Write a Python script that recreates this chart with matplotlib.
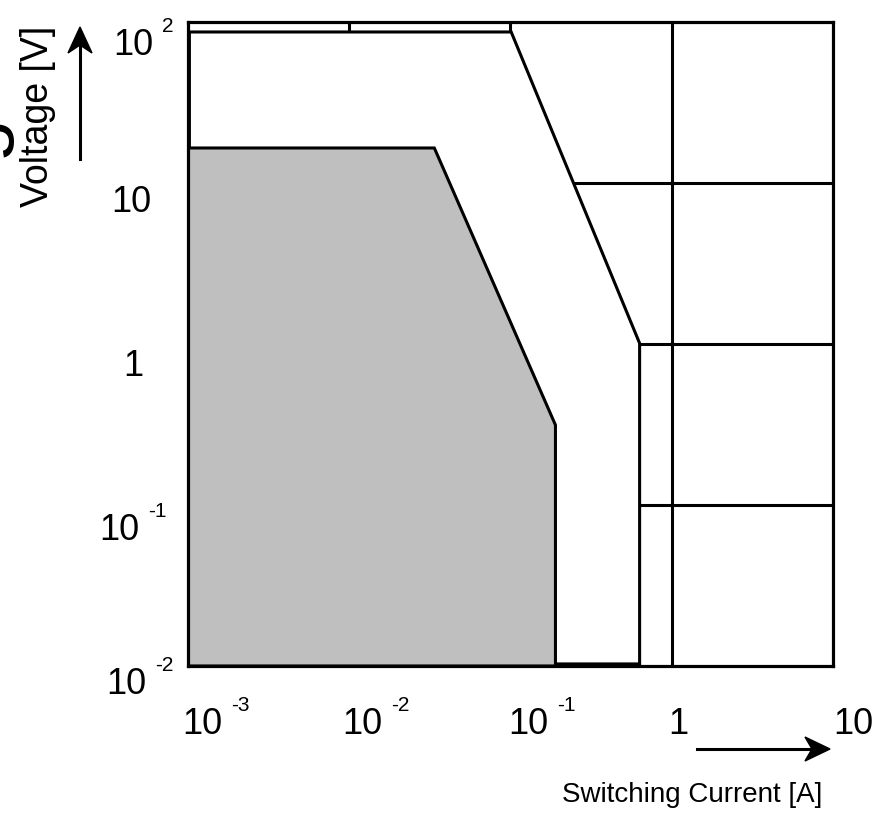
import numpy as np
import matplotlib
matplotlib.use('Agg')
import matplotlib.pyplot as plt
from matplotlib.patches import Polygon
from matplotlib.lines import Line2D

plt.rcParams['font.family'] = ['Liberation Sans', 'DejaVu Sans']

# ---------------- data ----------------
x_ticks = [1e-3, 1e-2, 1e-1, 1, 10]
x_tick_base = ["10", "10", "10", "1", "10"]
x_tick_exp = ["-3", "-2", "-1", "", ""]

y_ticks = [1e-2, 1e-1, 1, 10, 100]
y_tick_base = ["10", "10", "1", "10", "10"]
y_tick_exp = ["-2", "-1", "", "", "2"]

grid_x = [1e-2, 1e-1, 1]
grid_y = [1e-1, 1, 10]

# outer (white) switching region boundary
outer_x = [1.02e-3, 0.101, 0.632, 0.632, 1.02e-3]
outer_y = [86.7, 86.7, 1.01, 0.0103, 0.0103]

# inner (grey) region boundary
inner_x = [1e-3, 0.0337, 0.19, 0.19, 1e-3]
inner_y = [16.5, 16.5, 0.314, 0.01, 0.01]

x_label = "Switching Current [A]"
y_label = "Voltage [V]"
clipped_label = "Switching"

# ---------------- layout ----------------
W, H = 878, 824
fig = plt.figure(figsize=(W / 100, H / 100), dpi=100)
L, R, T, B = 188, 833, 22, 666
ax = fig.add_axes([L / W, (H - B) / H, (R - L) / W, (B - T) / H])
ax.set_xscale('log')
ax.set_yscale('log')
ax.set_xlim(1e-3, 10)
ax.set_ylim(1e-2, 100)
ax.tick_params(which='both', length=0, labelbottom=False, labelleft=False)
for s in ax.spines.values():
    s.set_linewidth(2.3)
    s.set_color('black')
    s.set_zorder(5)

LW = 2.2
for v in grid_x:
    ax.axvline(v, color='black', lw=LW, zorder=0.5)
for v in grid_y:
    ax.axhline(v, color='black', lw=LW, zorder=0.5)

ax.add_patch(Polygon(np.column_stack([outer_x, outer_y]), closed=True,
                     facecolor='white', edgecolor='black', lw=LW,
                     joinstyle='miter', zorder=1))
ax.add_patch(Polygon(np.column_stack([inner_x, inner_y]), closed=True,
                     facecolor='#bfbfbf', edgecolor='black', lw=LW,
                     joinstyle='miter', zorder=1.1))

BASE_FS = 26
SUP_FS = 15


def tick_label(x, y, base, exp, dx, dy):
    t = ax.annotate(base, xy=(x, y), xycoords='data', xytext=(dx, dy),
                    textcoords='offset pixels', ha='left', va='top',
                    fontsize=BASE_FS, annotation_clip=False)
    if exp:
        ax.annotate(exp, xy=(1, 1), xycoords=t, xytext=(9, 11),
                    textcoords='offset pixels', ha='left', va='top',
                    fontsize=SUP_FS, annotation_clip=False)


x_dx = [-6, -7, -2, -3, 0]
for xv, b, e, dx in zip(x_ticks, x_tick_base, x_tick_exp, x_dx):
    tick_label(xv, 1e-2, b, e, dx, -41)

y_dx = [-82, -89, -65, -77, -75]
y_dy = [-1, -8, -5, -2, -6]
for yv, b, e, dx, dy in zip(y_ticks, y_tick_base, y_tick_exp, y_dx, y_dy):
    tick_label(1e-3, yv, b, e, dx, dy)


def fx(px):
    return px / W


def fy(py):
    return 1 - py / H


# axis titles
fig.text(fx(38), fy(116), y_label, rotation=90, ha='center', va='center',
         fontsize=27)
fig.text(fx(822), fy(802), x_label, ha='right', va='baseline', fontsize=20)
fig.text(fx(-4), fy(114), clipped_label, rotation=90, rotation_mode='anchor',
         ha='right', va='baseline', fontsize=56)

# arrows
fig.add_artist(Line2D([fx(80), fx(80)], [fy(159), fy(42)], color='black',
                      lw=2.2, transform=fig.transFigure))
fig.add_artist(Polygon([[fx(80), fy(27)], [fx(68), fy(53)], [fx(80), fy(45)],
                        [fx(92), fy(53)]], closed=True, facecolor='black',
                       edgecolor='black', lw=1, transform=fig.transFigure))
fig.add_artist(Line2D([fx(697), fx(815)], [fy(749), fy(749)], color='black',
                      lw=2.2, transform=fig.transFigure))
fig.add_artist(Polygon([[fx(830), fy(749)], [fx(805), fy(737)], [fx(812), fy(749)],
                        [fx(805), fy(761)]], closed=True, facecolor='black',
                       edgecolor='black', lw=1, transform=fig.transFigure))

fig.savefig('out.png', dpi=100)
